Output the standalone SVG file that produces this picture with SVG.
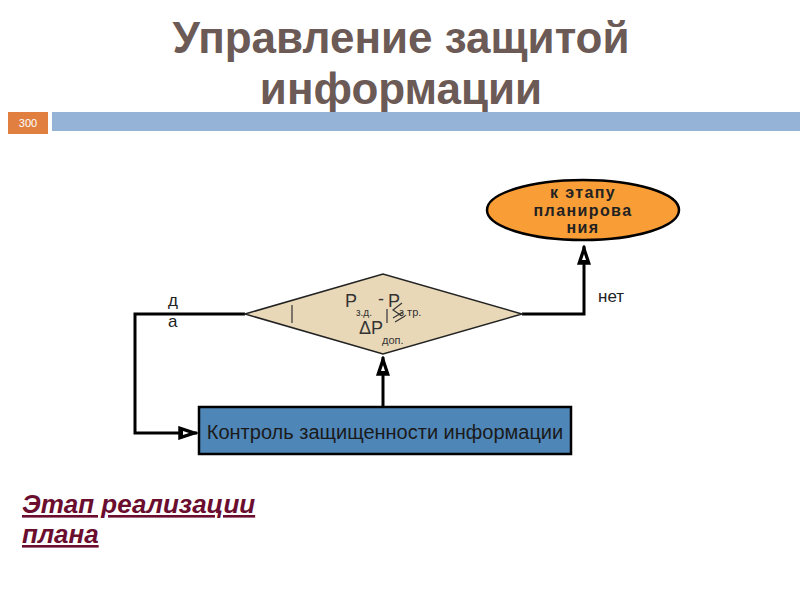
<svg xmlns="http://www.w3.org/2000/svg" width="800" height="600" viewBox="0 0 800 600">
<style>
.title{font-family:"Liberation Sans",Arial,sans-serif;font-weight:bold;font-size:44px;fill:#6b5a55;text-anchor:middle}
.lbl{font-family:"Liberation Sans",Arial,sans-serif;font-size:17px;fill:#222}
.conn{fill:none;stroke:#000;stroke-width:3}
.f{font-family:"Liberation Sans",Arial,sans-serif;fill:#333}
.thin{stroke:#333;stroke-width:1.2;fill:none}
.ell{font-family:"Liberation Sans",Arial,sans-serif;font-weight:bold;font-size:16px;fill:#222;text-anchor:middle;letter-spacing:1.4px}
</style>
<defs>
<marker id="arr" viewBox="0 0 20 14" refX="19" refY="7" markerWidth="20" markerHeight="14" markerUnits="userSpaceOnUse" orient="auto">
<path d="M1,1 L19,7 L1,13 Z" fill="#000" stroke="#000" stroke-width="1.5"/>
<path d="M5,5 L11,7 L5,9 Z" fill="#fff"/>
</marker>
</defs>
<rect width="800" height="600" fill="#fff"/>
<text class="title" x="401" y="53">Управление защитой</text>
<text class="title" x="401" y="104">информации</text>
<rect x="8" y="112" width="40" height="22" fill="#e07f3f"/>
<text x="28" y="127" font-family="Liberation Sans,Arial,sans-serif" font-size="11" fill="#fff" text-anchor="middle">300</text>
<rect x="52" y="112" width="748" height="19" fill="#95b3d7"/>
<g id="connectors">
<path class="conn" d="M383,407 V357" marker-end="url(#arr)"/>
<path class="conn" d="M522,314 H584 V246" marker-end="url(#arr)"/>
<path class="conn" d="M245,314 H135 V433 H197" marker-end="url(#arr)"/>
</g>
<g id="decision">
<polygon points="245,314 383,274 522,314 383,354" fill="#e8d8b8" stroke="#222" stroke-width="1.5"/>
<line class="thin" x1="292" y1="305" x2="292" y2="323"/>
<text class="f" x="345" y="307" font-size="18">P</text>
<text class="f" x="356" y="316" font-size="10">з.д.</text>
<text class="f" x="378" y="305" font-size="18">-</text>
<text class="f" x="388" y="307" font-size="18">P</text>
<line class="thin" x1="387" y1="309" x2="387" y2="323"/>
<path class="thin" d="M402,303 L393,310 L402,316"/>
<path class="thin" d="M393,318 L403,312 M395,322 L405,316"/>
<text class="f" x="399" y="316" font-size="11">з.тр.</text>
<text class="f" x="359" y="334" font-size="18">ΔP</text>
<text class="f" x="382" y="344" font-size="11">доп.</text>
</g>
<g id="planning">
<ellipse cx="583" cy="210" rx="96" ry="30" fill="#f99d36" stroke="#000" stroke-width="2.5"/>
<text class="ell" x="583" y="198">к этапу</text>
<text class="ell" x="583" y="216">планирова</text>
<text class="ell" x="583" y="233">ния</text>
</g>
<g id="control">
<rect x="199" y="407" width="372" height="47" fill="#4f86b8" stroke="#000" stroke-width="2.5"/>
<text x="385" y="439" font-family="Liberation Sans,Arial,sans-serif" font-size="20" fill="#1a1a1a" text-anchor="middle">Контроль защищенности информации</text>
</g>
<text class="lbl" x="598" y="302">нет</text>
<text class="lbl" x="168" y="306">д</text>
<text class="lbl" x="168" y="327">а</text>
<g font-family="Liberation Sans,Arial,sans-serif" font-weight="bold" font-style="italic" font-size="26" fill="#6b0d2f" text-decoration="underline">
<text x="22" y="513">Этап реализации</text>
<text x="22" y="543">плана</text>
</g>
</svg>
